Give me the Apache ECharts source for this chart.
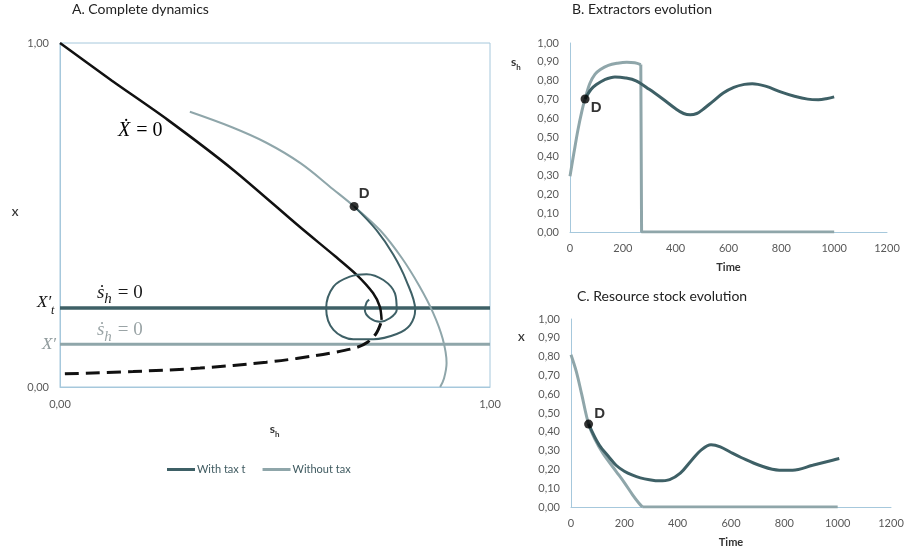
<!DOCTYPE html>
<html>
<head>
<meta charset="utf-8">
<script src="https://cdn.jsdelivr.net/npm/echarts@6/dist/echarts.min.js"></script>
<style>
html, body { margin: 0; padding: 0; background: #fff; }
#main { width: 909px; height: 558px; }
</style>
</head>
<body>
<div id="main"></div>
<script>
// ---- panel A: phase plane (s_h, X) ----
var ticks_a = [0, 1];
var xdot_sh = [0, 0.12, 0.249, 0.403, 0.558, 0.64, 0.69, 0.728, 0.744, 0.748];
var xdot_x  = [1, 0.891, 0.778, 0.631, 0.465, 0.38, 0.326, 0.273, 0.233, 0.195];
var xdot_unst_sh = [0.746, 0.735, 0.715, 0.69, 0.635, 0.55, 0.48, 0.326, 0.17, 0];
var xdot_unst_x  = [0.185, 0.155, 0.13, 0.115, 0.1, 0.083, 0.072, 0.055, 0.045, 0.038];
var sh_zero_tax = 0.23;
var sh_zero_notax = 0.124;
var tax_sh = [0.684, 0.736, 0.775, 0.805, 0.826, 0.814, 0.783, 0.729, 0.682, 0.636, 0.619, 0.636, 0.674, 0.713, 0.752, 0.779, 0.783, 0.767, 0.744, 0.721, 0.709, 0.713, 0.719];
var tax_x  = [0.525, 0.456, 0.385, 0.31, 0.225, 0.18, 0.154, 0.139, 0.139, 0.166, 0.229, 0.292, 0.321, 0.328, 0.311, 0.272, 0.224, 0.2, 0.19, 0.2, 0.224, 0.246, 0.254];
var notax_sh = [0.302, 0.40, 0.48, 0.56, 0.635, 0.684, 0.745, 0.795, 0.835, 0.868, 0.89, 0.899, 0.893, 0.884];
var notax_x  = [0.80, 0.755, 0.71, 0.65, 0.575, 0.525, 0.455, 0.375, 0.295, 0.215, 0.14, 0.07, 0.025, 0];
var d_a = [0.684, 0.525];

// ---- panel B: extractors s_h over time ----
var ticks_time = [0, 200, 400, 600, 800, 1000, 1200];
var ticks_share = [0, 0.1, 0.2, 0.3, 0.4, 0.5, 0.6, 0.7, 0.8, 0.9, 1];
var b_tax_t = [57, 80, 100, 130, 170, 210, 250, 300, 350, 400, 430, 455, 480, 500, 540, 580, 620, 660, 690, 740, 800, 850, 900, 940, 970, 1000];
var b_tax_v = [0.704, 0.755, 0.78, 0.805, 0.82, 0.815, 0.80, 0.755, 0.705, 0.652, 0.627, 0.62, 0.627, 0.645, 0.69, 0.735, 0.765, 0.781, 0.785, 0.772, 0.74, 0.718, 0.703, 0.70, 0.705, 0.715];
var b_notax_t = [0, 15, 30, 45, 57, 75, 95, 115, 145, 180, 215, 245, 268];
var b_notax_v = [0.295, 0.42, 0.54, 0.64, 0.704, 0.786, 0.835, 0.86, 0.882, 0.893, 0.898, 0.895, 0.886];
var b_collapse_t = [268, 271, 1000];
var b_collapse_v = [0.886, 0, 0];
var d_b = [57, 0.704];

// ---- panel C: resource stock X over time ----
var c_tax_t = [66, 106, 140, 169, 200, 231, 260, 294, 330, 370, 410, 450, 490, 525, 560, 600, 640, 706, 781, 831, 906, 981, 1006];
var c_tax_v = [0.441, 0.329, 0.27, 0.222, 0.19, 0.169, 0.155, 0.145, 0.139, 0.146, 0.18, 0.245, 0.305, 0.331, 0.32, 0.29, 0.262, 0.222, 0.196, 0.196, 0.222, 0.249, 0.258];
var c_notax_t = [0, 20, 40, 66, 90, 120, 169, 200, 231, 255, 268];
var c_notax_v = [0.81, 0.72, 0.6, 0.441, 0.36, 0.285, 0.19, 0.13, 0.065, 0.02, 0];
var c_collapse_t = [268, 1000];
var c_collapse_v = [0, 0];
var d_c = [66, 0.441];

var DARK = '#3e6066', GRAY = '#8fa6aa', AXIS = '#a6c8dc', LBL = '#595959';

function zip(a, b) { return a.map(function (v, i) { return [v, b[i]]; }); }
function comma(v) { return v.toFixed(2).replace('.', ','); }
function plain(v) { return String(v); }

function valAxis(grid, ticks, fmt, extra) {
    var ax = {
        type: 'value', gridIndex: grid,
        min: ticks[0], max: ticks[ticks.length - 1], interval: ticks[1] - ticks[0],
        axisLine: { show: true, onZero: false, lineStyle: { color: AXIS, width: 1 } },
        axisTick: { show: false },
        splitLine: { show: false },
        axisLabel: { color: LBL, fontSize: 11, fontFamily: 'Lato', margin: 11, formatter: fmt }
    };
    for (var k in extra) ax[k] = extra[k];
    return ax;
}

function line(name, x, y, data, color, width, extra) {
    var s = {
        name: name, type: 'line', xAxisIndex: x, yAxisIndex: y, data: data,
        showSymbol: false, smooth: 0.35, color: color,
        lineStyle: { color: color, width: width }, z: 3
    };
    for (var k in extra) s[k] = extra[k];
    return s;
}

function dot(x, y, pt, offset) {
    return {
        type: 'scatter', xAxisIndex: x, yAxisIndex: y, data: [pt], symbolSize: 9, z: 10,
        itemStyle: { color: '#000' },
        label: { show: true, formatter: 'D', position: 'inside', offset: offset,
                 fontFamily: 'Liberation Sans', fontWeight: 'bold', fontSize: 15, color: '#000' }
    };
}

var timeName = { name: 'Time', nameLocation: 'middle', nameGap: 30,
    nameTextStyle: { fontWeight: 'bold', fontSize: 11, color: '#333', fontFamily: 'Lato' } };

var chart = echarts.init(document.getElementById('main'));

chart.setOption({
    animation: false,
    title: [
        { text: 'A. Complete dynamics', left: 72, top: 2, padding: 0, textStyle: { fontSize: 14, fontWeight: 'normal', color: '#222', fontFamily: 'Lato' } },
        { text: 'B. Extractors evolution', left: 572, top: 2, padding: 0, textStyle: { fontSize: 14, fontWeight: 'normal', color: '#222', fontFamily: 'Lato' } },
        { text: 'C. Resource stock evolution', left: 577, top: 289, padding: 0, textStyle: { fontSize: 14, fontWeight: 'normal', color: '#222', fontFamily: 'Lato' } }
    ],
    legend: {
        data: ['With tax t', 'Without tax'], left: 162, top: 459,
        icon: 'rect', itemWidth: 28, itemHeight: 3, itemGap: 17,
        textStyle: { fontSize: 11, color: '#3f5a60', fontFamily: 'Lato', padding: [0, 0, 0, -3] }
    },
    grid: [
        { left: 60, top: 43, width: 430, height: 344, show: true, borderColor: AXIS, borderWidth: 1 },
        { left: 570, top: 43, width: 317, height: 189 },
        { left: 571, top: 319, width: 320, height: 188 }
    ],
    xAxis: [
        valAxis(0, ticks_a, comma, { axisLabel: { color: LBL, fontSize: 11, fontFamily: 'Lato', margin: 12, formatter: comma } }),
        valAxis(1, ticks_time, plain, timeName),
        valAxis(2, ticks_time, plain, timeName)
    ],
    yAxis: [
        valAxis(0, ticks_a, comma),
        valAxis(1, ticks_share, comma),
        valAxis(2, ticks_share, comma)
    ],
    series: [
        line('sh0 tax', 0, 0, [[ticks_a[0], sh_zero_tax], [ticks_a[1], sh_zero_tax]], DARK, 3.5, { smooth: false, z: 2 }),
        line('sh0 notax', 0, 0, [[ticks_a[0], sh_zero_notax], [ticks_a[1], sh_zero_notax]], GRAY, 3, { smooth: false, z: 2 }),
        line('Xdot0', 0, 0, zip(xdot_sh, xdot_x), '#111', 2.5, { smooth: 0.25 }),
        line('Xdot0 unstable', 0, 0, zip(xdot_unst_sh, xdot_unst_x), '#111', 3,
             { lineStyle: { color: '#111', width: 3, type: [14, 7] } }),
        line('Without tax', 0, 0, zip(notax_sh, notax_x), GRAY, 2),
        line('With tax t', 0, 0, zip(tax_sh, tax_x), DARK, 2),
        dot(0, 0, d_a, [10, -13]),

        line('B notax', 1, 1, zip(b_notax_t, b_notax_v), GRAY, 3),
        line('B notax collapse', 1, 1, zip(b_collapse_t, b_collapse_v), GRAY, 3, { smooth: false }),
        line('B tax', 1, 1, zip(b_tax_t, b_tax_v), DARK, 3, { z: 4 }),
        dot(1, 1, d_b, [11, 9]),

        line('C notax', 2, 2, zip(c_notax_t, c_notax_v), GRAY, 3),
        line('C notax collapse', 2, 2, zip(c_collapse_t, c_collapse_v), GRAY, 3, { smooth: false }),
        line('C tax', 2, 2, zip(c_tax_t, c_tax_v), DARK, 3, { z: 4 }),
        dot(2, 2, d_c, [11, -10])
    ]
});

// text annotations, anchored in data coordinates of each grid
var ctx = document.createElement('canvas').getContext('2d');
function textRun(grid, at, parts) {
    var p = chart.convertToPixel({ gridIndex: grid }, at);
    var x = p[0], out = [];
    parts.forEach(function (q) {
        ctx.font = q.font;
        out.push({ type: 'text', x: x, y: p[1] + (q.dy || 0), z: 20,
                   style: { text: q.t, font: q.font, fill: q.c, align: 'left', verticalAlign: 'bottom' } });
        x += ctx.measureText(q.t).width + (q.dx || 0);
    });
    return out;
}

var serif = '"Liberation Serif", "DejaVu Serif", serif';
var g = [];
g = g.concat(textRun(0, [0.135, 0.715], [
    { t: 'Ẋ', font: 'italic 20px ' + serif, c: '#000', dx: 6 },
    { t: '= 0', font: '20px ' + serif, c: '#000' }
]));
g = g.concat(textRun(0, [0.086, 0.247], [
    { t: 'ṡ', font: 'italic 19px ' + serif, c: '#1a1a1a' },
    { t: 'h', font: 'italic 15px ' + serif, c: '#1a1a1a', dy: 5, dx: 6 },
    { t: '= 0', font: '19px ' + serif, c: '#1a1a1a' }
]));
g = g.concat(textRun(0, [0.086, 0.137], [
    { t: 'ṡ', font: 'italic 19px ' + serif, c: '#9aa4a6' },
    { t: 'h', font: 'italic 15px ' + serif, c: '#9aa4a6', dy: 5, dx: 6 },
    { t: '= 0', font: '19px ' + serif, c: '#9aa4a6' }
]));
g = g.concat(textRun(0, [-0.0535, 0.221], [
    { t: 'X′', font: 'italic 17px ' + serif, c: '#111' },
    { t: 't', font: 'italic 12px ' + serif, c: '#111', dy: 6 }
]));
g = g.concat(textRun(0, [-0.042, 0.099], [
    { t: 'X′', font: 'italic 17px ' + serif, c: '#8f9a9c' }
]));
g = g.concat(textRun(0, [-0.112, 0.491], [
    { t: 'X', font: 'bold 10px Lato', c: '#333' }
]));
g = g.concat(textRun(0, [0.488, -0.14], [
    { t: 's', font: 'bold 12px Lato', c: '#333' },
    { t: 'h', font: 'bold 8px Lato', c: '#333', dy: 3 }
]));
g = g.concat(textRun(1, [-223, 0.868], [
    { t: 's', font: 'bold 12px Lato', c: '#333' },
    { t: 'h', font: 'bold 8px Lato', c: '#333', dy: 3 }
]));
g = g.concat(textRun(2, [-199, 0.874], [
    { t: 'X', font: 'bold 10px Lato', c: '#333' }
]));

chart.setOption({ graphic: g });
</script>
</body>
</html>
